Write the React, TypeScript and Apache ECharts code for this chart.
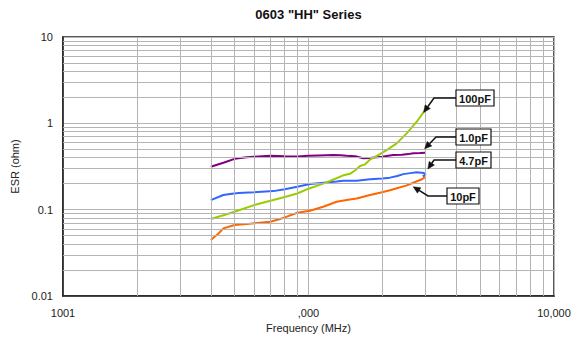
import React, { useEffect, useRef } from "react";
import * as echarts from "echarts";

const W = 581;
const H = 345;
const FONT = "'Liberation Sans', Arial, Helvetica, sans-serif";

const chartTitle = '0603 "HH" Series';
const xAxisName = "Frequency (MHz)";
const yAxisName = "ESR (ohm)";

// axis range and tick labels (as printed in the reference)
const freqMin = 100;
const freqMax = 10000;
const freqTickLabels: Record<number, string> = { 2: "1001", 3: ",000", 4: "10,000" };
const esrMin = 0.01;
const esrMax = 10;
const esrTickLabels: Record<number, string> = { [-2]: "0.01", [-1]: "0.1", 0: "1", 1: "10" };

// minor grid positions
const xMinorGrid = [200, 300, 400, 500, 600, 700, 800, 900, 2000, 3000, 4000, 5000, 6000, 7000, 8000, 9000];
const yMinorGrid = [
  0.02, 0.03, 0.04, 0.05, 0.06, 0.07, 0.08, 0.09,
  0.2, 0.3, 0.4, 0.5, 0.6, 0.7, 0.8, 0.9,
  2, 3, 4, 5, 6, 7, 8, 9,
];

// series: [frequency MHz, ESR ohm]
const esr1p0pF: [number, number][] = [
  [400, 0.314], [450, 0.35], [500, 0.388], [560, 0.405], [600, 0.41], [700, 0.421],
  [800, 0.416], [900, 0.412], [1000, 0.421], [1100, 0.425], [1262, 0.43], [1350, 0.428],
  [1431, 0.421], [1550, 0.415], [1672, 0.395], [1780, 0.398], [1900, 0.405], [2000, 0.41],
  [2080, 0.418], [2215, 0.43], [2400, 0.432], [2550, 0.44], [2670, 0.449], [2850, 0.452],
  [3000, 0.456],
];
const esr4p7pF: [number, number][] = [
  [400, 0.129], [450, 0.148], [479, 0.152], [520, 0.156], [600, 0.159], [719, 0.164],
  [800, 0.172], [900, 0.184], [1014, 0.198], [1186, 0.207], [1300, 0.212], [1386, 0.216],
  [1571, 0.216], [1780, 0.225], [2000, 0.23], [2148, 0.235], [2300, 0.245], [2432, 0.258],
  [2600, 0.265], [2760, 0.271], [2950, 0.266], [3000, 0.255], [2920, 0.243],
];
const esr10pF: [number, number][] = [
  [400, 0.0444], [430, 0.053], [450, 0.0607], [500, 0.0664], [560, 0.068], [600, 0.0694],
  [700, 0.0724], [766, 0.078], [800, 0.0815], [900, 0.0921], [1014, 0.0971], [1148, 0.108],
  [1302, 0.1235], [1450, 0.13], [1571, 0.135], [1780, 0.148], [1955, 0.157], [2148, 0.168],
  [2288, 0.177], [2500, 0.19], [2670, 0.205], [2900, 0.225], [3000, 0.241],
];
const esr100pF: [number, number][] = [
  [400, 0.0778], [450, 0.086], [500, 0.0946], [600, 0.113], [700, 0.127], [800, 0.14],
  [900, 0.154], [1000, 0.175], [1148, 0.2], [1224, 0.215], [1386, 0.25], [1476, 0.26],
  [1560, 0.29], [1621, 0.32], [1700, 0.335], [1780, 0.38], [1955, 0.44], [2080, 0.49],
  [2288, 0.586], [2511, 0.766], [2760, 1.044], [3000, 1.45],
];

const seriesNames = ["1.0pF", "4.7pF", "10pF", "100pF"];
const seriesColors = ["#800080", "#3366ff", "#ff6600", "#99cc00"];
const seriesData = [esr1p0pF, esr4p7pF, esr10pF, esr100pF];

// callout layout (boxes in pixels), targets taken from the data
const callouts = [
  { label: "100pF", target: esr100pF[esr100pF.length - 1], dx: -2, dy: 3, bx: 456, by: 90, bw: 38, bh: 16, elbowX: 434 },
  { label: "1.0pF", target: esr1p0pF[esr1p0pF.length - 1], dx: -1, dy: -4, bx: 456, by: 129, bw: 35, bh: 16, elbowX: 436 },
  { label: "4.7pF", target: esr4p7pF[esr4p7pF.length - 3], dx: 4, dy: -4, bx: 456, by: 152, bw: 35, bh: 16, elbowX: 434 },
  { label: "10pF", target: esr10pF[esr10pF.length - 3], dx: 0, dy: 4, bx: 447, by: 188, bw: 32, bh: 16, elbowX: 428 },
];

export default function App() {
  const ref = useRef<HTMLDivElement>(null);
  useEffect(() => {
    document.body.style.margin = "0";
    const chart = echarts.init(ref.current!, null, { renderer: "svg" });
    const lineSeries = seriesData.map((d, i) => ({
      name: seriesNames[i],
      type: "line",
      data: d,
      showSymbol: false,
      symbol: "none",
      z: 3,
      lineStyle: { color: seriesColors[i], width: 2 },
      itemStyle: { color: seriesColors[i] },
    }));
    chart.setOption({
      animation: false,
      textStyle: { fontFamily: FONT },
      grid: {
        left: 63, right: 27, top: 37, bottom: 49,
        show: true, borderColor: "#222", borderWidth: 1.5,
      },
      xAxis: {
        type: "log", logBase: 10, min: freqMin, max: freqMax,
        name: xAxisName, nameLocation: "middle", nameGap: 26,
        nameTextStyle: { fontSize: 11, color: "#222", fontFamily: FONT },
        axisLine: { show: true, lineStyle: { color: "#222", width: 1.5 } },
        axisTick: { show: false },
        axisLabel: {
          fontSize: 11, color: "#222", margin: 11, fontFamily: FONT,
          formatter: (v: number) => freqTickLabels[Math.round(Math.log10(v))] ?? "",
        },
        splitLine: { show: true, lineStyle: { color: "#b4b4b4", width: 1 } },
      },
      yAxis: {
        type: "log", logBase: 10, min: esrMin, max: esrMax,
        name: yAxisName, nameLocation: "middle", nameGap: 38,
        nameTextStyle: { fontSize: 11, color: "#222", fontFamily: FONT },
        axisLine: { show: true, lineStyle: { color: "#222", width: 1.5 } },
        axisTick: { show: false },
        axisLabel: {
          fontSize: 11, color: "#222", margin: 10, fontFamily: FONT,
          formatter: (v: number) => esrTickLabels[Math.round(Math.log10(v))] ?? "",
        },
        splitLine: { show: true, lineStyle: { color: "#b4b4b4", width: 1 } },
      },
      series: [
        {
          type: "line",
          data: [[freqMin, esrMin]],
          showSymbol: false,
          symbol: "none",
          lineStyle: { opacity: 0 },
          silent: true,
          z: 1,
          markLine: {
            silent: true,
            symbol: ["none", "none"],
            label: { show: false },
            lineStyle: { color: "#b4b4b4", type: "solid", width: 1 },
            data: [
              ...xMinorGrid.map((v) => ({ xAxis: v })),
              ...yMinorGrid.map((v) => ({ yAxis: v })),
            ],
          },
        },
        ...lineSeries,
      ],
    });

    const graphics: any[] = [
      {
        type: "text",
        x: 308.5,
        y: 8,
        style: {
          text: chartTitle,
          fill: "#111",
          font: `bold 13px ${FONT}`,
          textAlign: "center",
          textVerticalAlign: "top",
        },
      },
    ];
    callouts.forEach((c) => {
      const p = chart.convertToPixel({ gridIndex: 0 }, c.target) as number[];
      const tip = [p[0] + c.dx, p[1] + c.dy];
      const ey = c.by + c.bh / 2;
      const elbow = [c.elbowX, ey];
      const ddx = tip[0] - elbow[0];
      const ddy = tip[1] - elbow[1];
      const len = Math.hypot(ddx, ddy) || 1;
      const ux = ddx / len, uy = ddy / len;
      const headL = 7, headW = 3.2;
      const base = [tip[0] - ux * headL, tip[1] - uy * headL];
      graphics.push({
        type: "polyline",
        z: 50,
        shape: { points: [[c.bx, ey], elbow, base] },
        style: { stroke: "#111", lineWidth: 1.5, fill: "none" },
      });
      graphics.push({
        type: "polygon",
        z: 50,
        shape: {
          points: [
            tip,
            [base[0] - uy * headW, base[1] + ux * headW],
            [base[0] + uy * headW, base[1] - ux * headW],
          ],
        },
        style: { fill: "#111", stroke: "#111", lineWidth: 0.5 },
      });
      graphics.push({
        type: "rect",
        z: 50,
        shape: { x: c.bx, y: c.by, width: c.bw, height: c.bh },
        style: { fill: "#fff", stroke: "#111", lineWidth: 1.2 },
      });
      graphics.push({
        type: "text",
        z: 51,
        x: c.bx + c.bw / 2,
        y: c.by + c.bh / 2 + 0.5,
        style: {
          text: c.label,
          fill: "#111",
          font: `bold 11px ${FONT}`,
          textAlign: "center",
          textVerticalAlign: "middle",
        },
      });
    });
    chart.setOption({ graphic: graphics });
    return () => chart.dispose();
  }, []);
  return <div ref={ref} style={{ width: W, height: H }} />;
}
